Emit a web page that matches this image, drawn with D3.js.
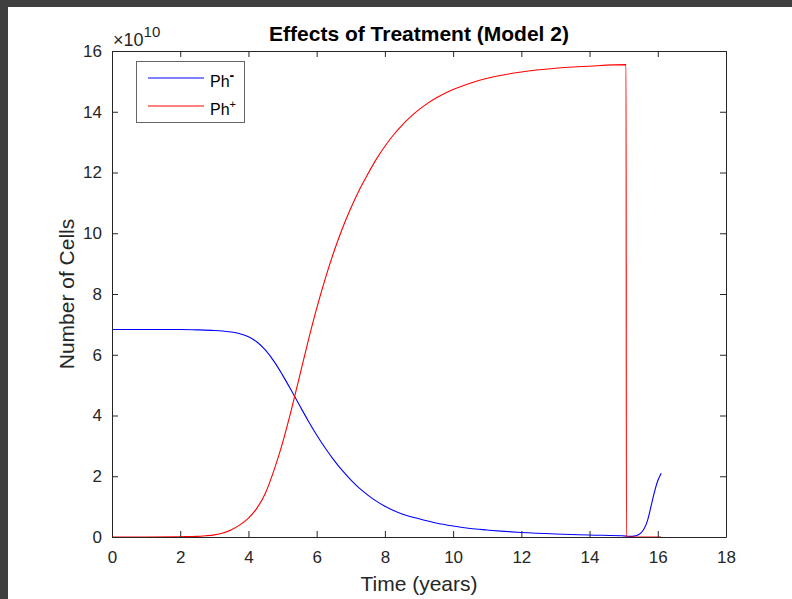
<!DOCTYPE html>
<html><head><meta charset="utf-8">
<script src="https://cdn.jsdelivr.net/npm/d3@7"></script>
<style>
html,body{margin:0;padding:0;background:#fff;}
svg{display:block;font-family:"Liberation Sans",Arial,Helvetica,sans-serif;}
</style></head>
<body>
<svg id="chart" width="792" height="599"></svg>
<script>
// ---- data (values in units of 1e10 cells) ----
const timeMinus = [0, 1, 2, 2.5, 3.0, 3.25, 3.5, 3.75, 4.0, 4.25, 4.5, 4.75, 5.0, 5.25, 5.5, 5.75, 6.0, 6.25, 6.5, 6.75, 7.0, 7.25, 7.5, 7.75, 8.0, 8.5, 9.0, 9.5, 10, 10.5, 11, 11.5, 12, 13, 14, 15.08, 15.2, 15.3, 15.4, 15.5, 15.6, 15.7, 15.8, 15.9, 16.0, 16.1];
const phMinus   = [6.83, 6.83, 6.83, 6.82, 6.80, 6.78, 6.75, 6.69, 6.59, 6.42, 6.15, 5.78, 5.33, 4.84, 4.33, 3.83, 3.36, 2.93, 2.54, 2.19, 1.88, 1.61, 1.38, 1.18, 1.01, 0.76, 0.60, 0.46, 0.36, 0.28, 0.23, 0.185, 0.15, 0.10, 0.065, 0.03, 0.02, 0.03, 0.06, 0.13, 0.27, 0.55, 1.0, 1.47, 1.85, 2.10];
const timePlus  = [0, 1, 2, 2.5, 2.75, 3.0, 3.25, 3.5, 3.75, 4.0, 4.25, 4.5, 4.75, 5.0, 5.25, 5.5, 5.75, 6.0, 6.25, 6.5, 6.75, 7.0, 7.25, 7.5, 7.75, 8.0, 8.25, 8.5, 8.75, 9.0, 9.25, 9.5, 9.75, 10, 10.5, 11, 11.5, 12, 13, 14, 15.07, 15.08, 15.6, 16.1];
const phPlus    = [0, 0, 0.01, 0.02, 0.04, 0.07, 0.13, 0.24, 0.40, 0.62, 0.95, 1.45, 2.2, 3.1, 4.15, 5.3, 6.45, 7.525, 8.5, 9.375, 10.15, 10.825, 11.425, 11.95, 12.44, 12.865, 13.235, 13.555, 13.83, 14.07, 14.275, 14.45, 14.6, 14.73, 14.94, 15.10, 15.22, 15.31, 15.43, 15.50, 15.55, 0, 0, 0];
const xTicks = [0, 2, 4, 6, 8, 10, 12, 14, 16, 18];
const yTicks = [0, 2, 4, 6, 8, 10, 12, 14, 16];
const seriesNames = ["Ph", "Ph"];
const seriesSups = ["-", "+"];
const seriesColors = ["#0000ff", "#ff0000"];

const svg = d3.select("#chart");
// screenshot frame
svg.append("rect").attr("x",0).attr("y",0).attr("width",792).attr("height",599).attr("fill","#3f3f3f");
svg.append("rect").attr("x",8).attr("y",7).attr("width",784).attr("height",592).attr("fill","#ffffff");

const L = 112, R = 726, T = 51, B = 537;
const x = d3.scaleLinear().domain([0, 18]).range([L, R]);
const y = d3.scaleLinear().domain([0, 16]).range([B, T]);
const axisColor = "#262626";

// lines
const line = d3.line().x(d => x(d[0])).y(d => y(d[1])).curve(d3.curveMonotoneX);
const g = svg.append("g");
g.append("path").datum(timeMinus.map((t,i)=>[t, phMinus[i]]))
  .attr("d", line).attr("fill","none").attr("stroke", seriesColors[0]).attr("stroke-width",1.1);
g.append("path").datum(timePlus.map((t,i)=>[t, phPlus[i]]))
  .attr("d", line).attr("fill","none").attr("stroke", seriesColors[1]).attr("stroke-width",1.1);

// axes (MATLAB box with inward ticks)
const tickLen = 6;
function styleAxis(sel){
  sel.selectAll("path").attr("stroke", axisColor).attr("stroke-width",1);
  sel.selectAll("line").attr("stroke", axisColor).attr("stroke-width",1);
  sel.selectAll("text").attr("fill", axisColor).style("font-size","17px").style("font-family",'"Liberation Sans",Arial,sans-serif');
}
const xb = svg.append("g").attr("transform",`translate(0,${B})`)
  .call(d3.axisBottom(x).tickValues(xTicks).tickSizeInner(-tickLen).tickSizeOuter(0).tickPadding(14).tickFormat(d3.format("d")));
styleAxis(xb);
const xt = svg.append("g").attr("transform",`translate(0,${T})`)
  .call(d3.axisTop(x).tickValues(xTicks).tickSizeInner(-tickLen).tickSizeOuter(0).tickFormat(""));
styleAxis(xt);
const yl = svg.append("g").attr("transform",`translate(${L},0)`)
  .call(d3.axisLeft(y).tickValues(yTicks).tickSizeInner(-tickLen).tickSizeOuter(0).tickPadding(10).tickFormat(d3.format("d")));
styleAxis(yl);
const yr = svg.append("g").attr("transform",`translate(${R},0)`)
  .call(d3.axisRight(y).tickValues(yTicks).tickSizeInner(-tickLen).tickSizeOuter(0).tickFormat(""));
styleAxis(yr);

// exponent label
const ex = svg.append("text").attr("x", L+1).attr("y", 46).attr("fill", axisColor).style("font-size","18px");
ex.append("tspan").text("×10");
ex.append("tspan").attr("dy",-9).style("font-size","15px").text("10");

// title and labels
svg.append("text").attr("x",(L+R)/2).attr("y",41).attr("text-anchor","middle")
  .attr("fill","#000").style("font-size","21px").style("font-weight","bold")
  .text("Effects of Treatment (Model 2)");
svg.append("text").attr("x",(L+R)/2).attr("y",591).attr("text-anchor","middle")
  .attr("fill",axisColor).style("font-size","21px").text("Time (years)");
svg.append("text").attr("transform",`translate(74,${(T+B)/2}) rotate(-90)`).attr("text-anchor","middle")
  .attr("fill",axisColor).style("font-size","21px").text("Number of Cells");

// legend
const lg = svg.append("g");
lg.append("rect").attr("x",136.5).attr("y",61.5).attr("width",108).attr("height",61)
  .attr("fill","#fff").attr("stroke","#666").attr("stroke-width",1);
const rowY = [78, 106];
seriesNames.forEach((n,i)=>{
  lg.append("line").attr("x1",148).attr("x2",204).attr("y1",rowY[i]).attr("y2",rowY[i])
    .attr("stroke",seriesColors[i]).attr("stroke-width",1.1);
  const t = lg.append("text").attr("x",210).attr("y",rowY[i]+9).attr("fill","#000").style("font-size","16px");
  t.append("tspan").text(n);
  t.append("tspan").attr("dy",-7).style("font-size", i===0?"14px":"11px").style("font-weight", i===0?"bold":"normal").text(seriesSups[i]);
});
</script>
</body></html>
